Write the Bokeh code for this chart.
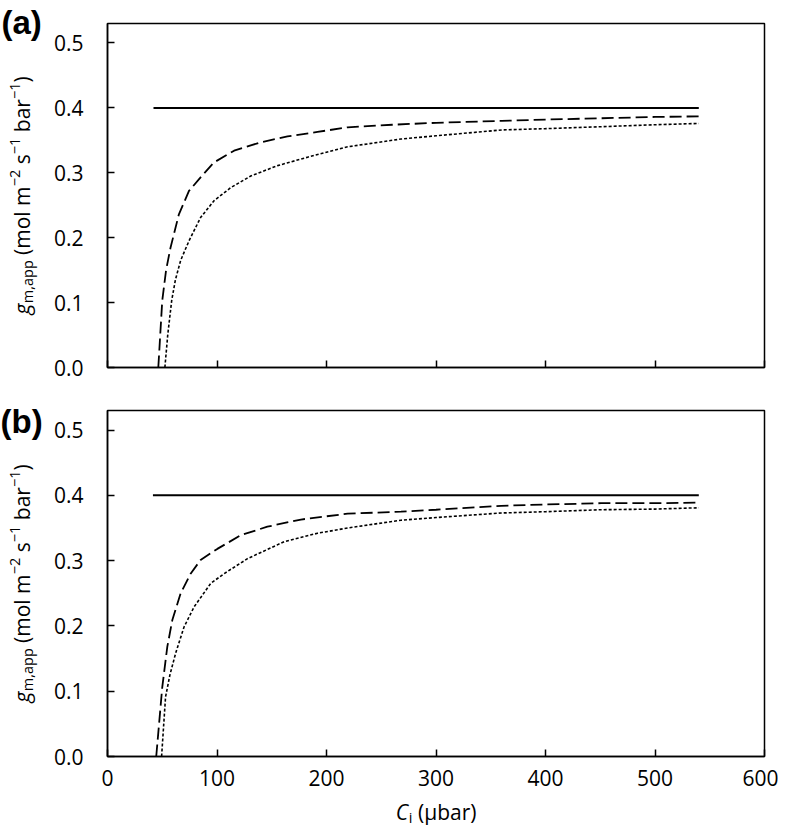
from bokeh.plotting import figure
from bokeh.models import FixedTicker, ColumnDataSource
from bokeh.core.properties import value
from bokeh.layouts import column, row
from bokeh.embed import file_html
from bokeh.resources import INLINE

# ---------------- data ----------------
x_ticks = [0, 100, 200, 300, 400, 500, 600]
x_tick_labels = ["0", "100", "200", "300", "400", "500", "600"]
y_ticks = [0.0, 0.1, 0.2, 0.3, 0.4, 0.5]
y_tick_labels = ["0.0", "0.1", "0.2", "0.3", "0.4", "0.5"]

# panel (a)
a_solid_ci = [42, 540]
a_solid_gm = [0.4, 0.4]
a_dash_ci = [46.4, 50, 53.5, 57.6, 65.2, 74.4, 85, 97.3, 115.6, 140, 164.4, 191.8, 219.3, 260, 300, 360, 400, 451, 500, 540]
a_dash_gm = [0.0, 0.103, 0.150, 0.185, 0.236, 0.272, 0.293, 0.316, 0.334, 0.347, 0.356, 0.363, 0.370, 0.374, 0.377, 0.380, 0.382, 0.384, 0.386, 0.387]
a_dot_ci = [52.4, 55, 58.6, 62, 66.8, 74.4, 85, 97.3, 112.5, 130.8, 155.3, 182.7, 219.3, 268, 300, 360, 400, 451, 500, 540]
a_dot_gm = [0.0, 0.05, 0.103, 0.135, 0.165, 0.195, 0.231, 0.257, 0.277, 0.295, 0.311, 0.324, 0.340, 0.352, 0.357, 0.366, 0.368, 0.371, 0.374, 0.376]

# panel (b)
b_solid_ci = [41.5, 540]
b_solid_gm = [0.4, 0.4]
b_dash_ci = [44.5, 50, 54.6, 59.2, 66.8, 75.9, 85, 100.3, 121.7, 146, 176.6, 219.3, 268, 300, 359.6, 400, 451, 500, 540]
b_dash_gm = [0.0, 0.106, 0.168, 0.209, 0.250, 0.280, 0.301, 0.318, 0.339, 0.352, 0.363, 0.372, 0.375, 0.378, 0.384, 0.386, 0.388, 0.388, 0.389]
b_dot_ci = [49.4, 53, 57, 62.2, 69.8, 79, 94.2, 106.4, 127.8, 161.3, 191.8, 219.3, 268, 300, 359.6, 400, 451, 500, 540]
b_dot_gm = [0.0, 0.091, 0.125, 0.158, 0.198, 0.229, 0.265, 0.280, 0.303, 0.329, 0.342, 0.350, 0.362, 0.366, 0.373, 0.375, 0.378, 0.379, 0.381]

panel_labels = ["(a)", "(b)"]

# ---------------- styling ----------------
FONT = "Open Sans"
TICK_SIZE = 21
LAB_SIZE = 21
SUB_SIZE = 14.5
EM = {" ": 0.26, "(": 0.291, ")": 0.291, ",": 0.24, "a": 0.556, "b": 0.613, "g": 0.544,
      "l": 0.253, "m": 0.93, "o": 0.604, "p": 0.613, "r": 0.408, "s": 0.477, "i": 0.253,
      "C": 0.63, "\u03bc": 0.62, "\u2212": 0.572, "1": 0.572, "2": 0.572}


def tw(s, size):
    return sum(EM.get(c, 0.56) for c in s) * size


# label pieces: (text, size, italic, shift)  shift: -1 subscript, +1 superscript
YLABEL = [("g", LAB_SIZE, True, 0), ("m,app", SUB_SIZE, False, -1), (" (mol m", LAB_SIZE, False, 0),
          ("\u22122", SUB_SIZE, False, 1), (" s", LAB_SIZE, False, 0), ("\u22121", SUB_SIZE, False, 1),
          (" bar", LAB_SIZE, False, 0), ("\u22121", SUB_SIZE, False, 1), (")", LAB_SIZE, False, 0)]
XLABEL = [("C", LAB_SIZE, True, 0), ("i", SUB_SIZE, False, -1), (" (\u03bcbar)", LAB_SIZE, False, 0)]

STRIP_W = 50
MAIN_W = 728
HA = 395
HB = 399
XL_H = 34
STRIP_H = HA + HB


def blank_fig(w, h):
    f = figure(width=w, height=h, x_range=(0, w), y_range=(0, h), output_backend="svg",
               toolbar_location=None, x_axis_type=None, y_axis_type=None, title=None,
               min_border=0, min_border_left=0, min_border_right=0,
               min_border_top=0, min_border_bottom=0)
    f.outline_line_color = None
    f.grid.visible = False
    f.background_fill_color = "white"
    f.border_fill_color = "white"
    return f


def add_pieces(f, pieces, start, base, vertical):
    xs, ys, ts, sz, st = [], [], [], [], []
    pos = start
    for t, s, it, sh in pieces:
        if t.startswith(" "):
            pos += tw(" ", s)
            t = t[1:]
        off = (-6 if sh < 0 else (7 if sh > 0 else 0))
        if vertical:
            xs.append(base - off)
            ys.append(pos)
        else:
            xs.append(pos)
            ys.append(base + off)
        ts.append(t)
        sz.append(f"{s}px")
        st.append("italic" if it else "normal")
        pos += tw(t, s)
    src = ColumnDataSource(dict(x=xs, y=ys, text=ts, size=sz, style=st))
    f.text(x="x", y="y", text="text", source=src, angle=1.5707963267948966 if vertical else 0,
           text_font=value(FONT), text_font_size="size", text_font_style="style",
           text_color="black", text_align="left", text_baseline="middle")


def make_panel(height, btop, bbottom, show_xlabels, solid, dash, dot):
    p = figure(width=MAIN_W, height=height, x_range=(0, 600), y_range=(0, 0.53),
               output_backend="svg", toolbar_location=None,
               min_border_left=57, min_border_right=14, min_border_top=btop,
               min_border_bottom=bbottom, background_fill_color="white",
               border_fill_color="white")
    p.grid.visible = False
    p.outline_line_color = "black"
    p.outline_line_width = 1.5
    p.line(solid[0], solid[1], line_color="black", line_width=2)
    p.line(dash[0], dash[1], line_color="black", line_width=1.8, line_dash="12 5")
    p.line(dot[0], dot[1], line_color="black", line_width=1.6, line_dash="3 2")
    for ax in (p.xaxis[0], p.yaxis[0]):
        ax.axis_line_color = "black"
        ax.axis_line_width = 1.5
        ax.major_tick_line_color = "black"
        ax.major_tick_line_width = 1.5
        ax.major_tick_in = 7
        ax.major_tick_out = 0
        ax.minor_tick_line_color = None
        ax.major_label_text_font = FONT
        ax.major_label_text_font_size = f"{TICK_SIZE}px"
        ax.major_label_text_color = "black"
    p.yaxis.ticker = FixedTicker(ticks=y_ticks)
    p.yaxis.major_label_overrides = {t: l for t, l in zip(y_ticks, y_tick_labels)}
    p.yaxis.major_label_standoff = 24
    p.xaxis.ticker = FixedTicker(ticks=x_ticks)
    if show_xlabels:
        p.xaxis.major_label_overrides = {t: l for t, l in zip(x_ticks, x_tick_labels)}
        p.xaxis.major_label_standoff = 13
    else:
        p.xaxis.major_label_overrides = {t: "" for t in x_ticks}
        p.xaxis.major_label_text_font_size = "8px"
        p.xaxis.major_label_standoff = 0
    return p


pa = make_panel(HA, 23, 28, False, (a_solid_ci, a_solid_gm), (a_dash_ci, a_dash_gm), (a_dot_ci, a_dot_gm))
pb = make_panel(HB, 15, 38, True, (b_solid_ci, b_solid_gm), (b_dash_ci, b_dash_gm), (b_dot_ci, b_dot_gm))

# tall strip on the left holding the rotated y labels and the panel tags
st = blank_fig(STRIP_W, STRIP_H)
ytotal = sum(tw(t, s) for t, s, _, _ in YLABEL)
for center_cy in (195, 583):
    add_pieces(st, YLABEL, (STRIP_H - center_cy) - ytotal / 2, 21, True)
st.text(x=[1, 0], y=[STRIP_H - 22, STRIP_H - 421], text=panel_labels,
        text_font=value("Liberation Sans"), text_font_style="bold", text_font_size="33px",
        text_color="black", text_align="left", text_baseline="middle")

# x-axis title strip below panel (b)
xl = blank_fig(STRIP_W + MAIN_W, XL_H)
xtotal = sum(tw(t, s) for t, s, _, _ in XLABEL)
add_pieces(xl, XLABEL, 435.5 - xtotal / 2, XL_H - (811 - STRIP_H), False)

layout = column(row(st, column(pa, pb, spacing=0), spacing=0), xl, spacing=0)
open("out.html", "w").write(file_html(layout, INLINE))
